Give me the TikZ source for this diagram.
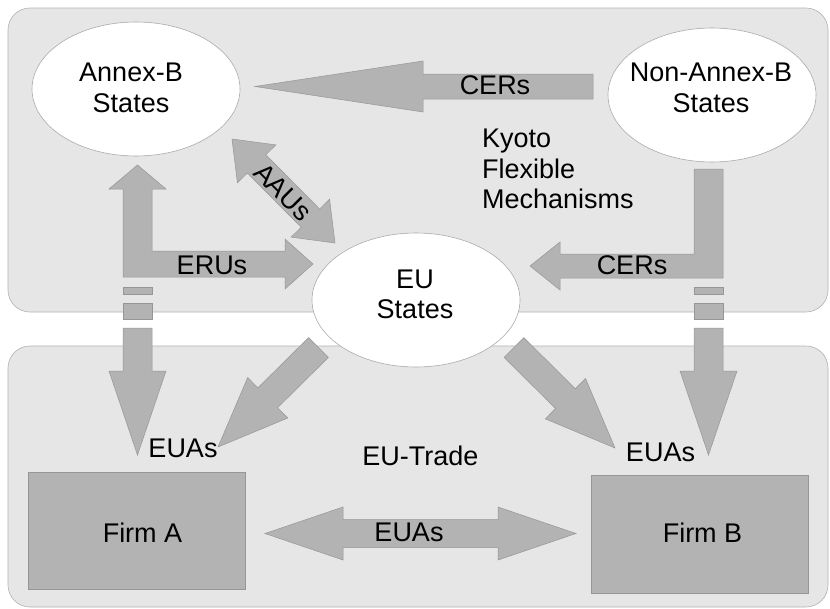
\documentclass[tikz,border=0pt]{standalone}
\usepackage{fontspec}
\setmainfont{Liberation Sans}
\usetikzlibrary{shapes.geometric,calc}
\definecolor{panelgray}{RGB}{230,230,230}
\definecolor{panelline}{RGB}{178,178,178}
\definecolor{arrowgray}{RGB}{179,179,179}
\definecolor{arrowline}{RGB}{150,150,150}
\definecolor{ellline}{RGB}{170,170,170}
\tikzset{
 panel/.style={fill=panelgray, draw=panelline, line width=0.6pt, rounded corners=22pt},
 blockarrow/.style={fill=arrowgray, draw=arrowline, line width=0.5pt},
 stateell/.style={ellipse, fill=white, draw=ellline, line width=0.6pt, inner sep=0pt, minimum width=208pt, minimum height=134pt},
 firmbox/.style={rectangle, fill=arrowgray, draw=arrowline, line width=0.6pt, inner sep=0pt, minimum width=217pt, minimum height=117pt},
 lbl/.style={inner sep=0pt, font=\fontsize{27}{30.5}\selectfont, align=center, text=black},
}
% start, tip, shaft half width, head half width, head length
\newcommand{\blockarr}[5]{%
  \coordinate (ba-hb) at ($(#2)!#5!(#1)$);
  \path[blockarrow] ($(#1)!#3!90:(#2)$) -- ($(ba-hb)!#3!-90:(#1)$) -- ($(ba-hb)!#4!-90:(#1)$) -- (#2) -- ($(ba-hb)!#4!90:(#1)$) -- ($(ba-hb)!#3!90:(#1)$) -- ($(#1)!#3!-90:(#2)$) -- cycle;
}
% tip1, tip2, shaft half width, head half width, head length
\newcommand{\dblarr}[5]{%
  \coordinate (da-a) at ($(#1)!#5!(#2)$);
  \coordinate (da-b) at ($(#2)!#5!(#1)$);
  \path[blockarrow] (#1) -- ($(da-a)!#4!90:(#2)$) -- ($(da-a)!#3!90:(#2)$) -- ($(da-b)!#3!-90:(#1)$) -- ($(da-b)!#4!-90:(#1)$) -- (#2) -- ($(da-b)!#4!90:(#1)$) -- ($(da-b)!#3!90:(#1)$) -- ($(da-a)!#3!-90:(#2)$) -- ($(da-a)!#4!-90:(#2)$) -- cycle;
}
\begin{document}
\begin{tikzpicture}[x=1pt,y=-1pt]
\useasboundingbox (0,0) rectangle (830,608);
% panels
\path[panel] (8,8) rectangle (828,312);
\path[panel] (8,346) rectangle (828,607);

% top CERs arrow
\coordinate (cerTopS) at (593,86.5);
\coordinate (cerTopT) at (255,86.5);
\blockarr{cerTopS}{cerTopT}{12.5pt}{25.5pt}{168pt}

% ERUs L-shaped arrow
\path[blockarrow] (123,277) -- (123,189) -- (109,189) -- (137.5,165) -- (166,189) -- (152,189) -- (152,251) -- (285,251) -- (285,239) -- (313,264) -- (285,289) -- (285,277) -- cycle;

% right CERs L-shaped arrow
\path[blockarrow] (694,169) -- (723,169) -- (723,278) -- (560,278) -- (560,290) -- (530,266) -- (560,242) -- (560,254) -- (694,254) -- cycle;

% left broken arrow down to Firm A
\path[blockarrow] (123,287) rectangle (152,294);
\path[blockarrow] (123,303) rectangle (152,319);
\path[blockarrow] (123,328) -- (152,328) -- (152,371) -- (166,371) -- (137.5,455) -- (109,371) -- (123,371) -- cycle;

% right broken arrow down to Firm B
\path[blockarrow] (694,287) rectangle (723,294);
\path[blockarrow] (694,303) rectangle (723,319);
\path[blockarrow] (694,328) -- (723,328) -- (723,371) -- (737,371) -- (708.5,455) -- (680,371) -- (694,371) -- cycle;

% AAUs double arrow
\coordinate (aauA) at (232,139);
\coordinate (aauB) at (335,243);
\dblarr{aauA}{aauB}{13pt}{27pt}{35pt}

% EU -> Firm A / Firm B
\coordinate (euAs) at (318.5,347.5);
\coordinate (euAt) at (218,447);
\blockarr{euAs}{euAt}{14pt}{28.5pt}{70pt}
\coordinate (euBs) at (514,347.5);
\coordinate (euBt) at (615,448);
\blockarr{euBs}{euBt}{14pt}{28.5pt}{70pt}

% EUAs double arrow between firms
\coordinate (tradeA) at (265,533.5);
\coordinate (tradeB) at (576,533.5);
\dblarr{tradeA}{tradeB}{14pt}{26.5pt}{78pt}

% ellipses
\node[stateell] (annexB) at (136,89) {};
\node[stateell] (nonannexB) at (712,95) {};
\node[stateell] (eu) at (416,300) {};

% firm boxes
\node[firmbox] (firmA) at (136.5,530.5) {};
\node[firmbox, minimum height=118pt] (firmB) at (699.5,534) {};

% texts
\node[lbl] (annexBt) at (131,88) {Annex-B\\States};
\node[lbl] (nonannexBt) at (711,88) {Non-Annex-B\\States};
\node[lbl] (eut) at (415,294.5) {EU\\States};
\node[lbl, anchor=north west, align=left] (kyoto) at (482,129) {Kyoto\\Flexible\\Mechanisms};
\node[lbl] (cer1) at (495,85.5) {CERs};
\node[lbl] (cer2) at (632,265.5) {CERs};
\node[lbl] (eru) at (212,265) {ERUs};
\node[lbl, rotate=-45] (aau) at (283,192) {AAUs};
\node[lbl] (eua1) at (183,448) {EUAs};
\node[lbl] (eua2) at (660.5,452.5) {EUAs};
\node[lbl] (trade) at (420.5,456) {EU-Trade};
\node[lbl] (eua3) at (409,532.5) {EUAs};
\node[lbl] (firmAt) at (142.5,533) {Firm A};
\node[lbl] (firmBt) at (702.5,533) {Firm B};
\end{tikzpicture}
\end{document}
